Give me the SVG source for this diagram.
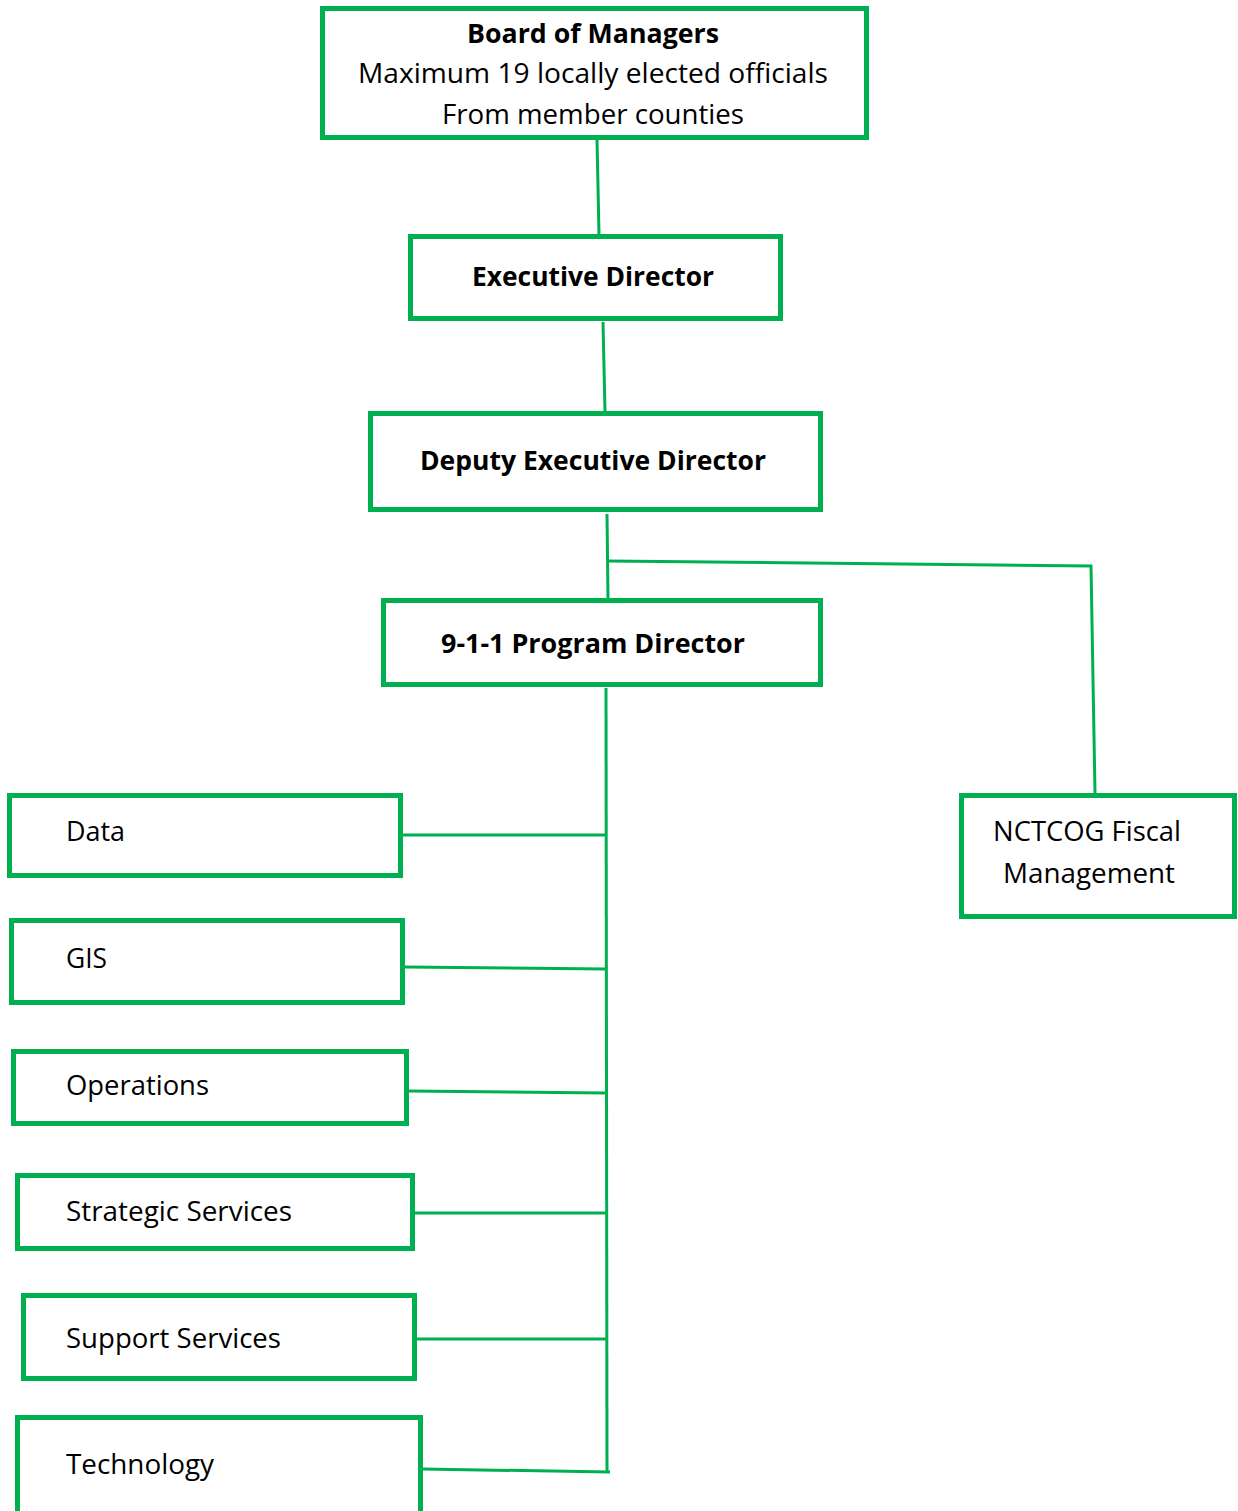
<svg xmlns="http://www.w3.org/2000/svg" width="1238" height="1511" viewBox="0 0 1238 1511">
<style>
.box{fill:#fff;stroke:#00B050;stroke-width:5}
.ln{fill:none;stroke:#00B050;stroke-width:3}
text{font-family:"Open Sans","Noto Sans",sans-serif;font-size:27px;fill:#000}
.b{font-weight:bold}
.c{text-anchor:middle}
</style>
<rect width="1238" height="1511" fill="#fff"/>
<g id="connectors">
<path class="ln" d="M597,139 L599,235"/>
<path class="ln" d="M603,322 L605,412"/>
<path class="ln" d="M607,514 L608,599"/>
<path class="ln" d="M608,561 L1091,566 L1095,793"/>
<path class="ln" d="M606,688 L607,1473"/>
<path class="ln" d="M402,835 L606,835"/>
<path class="ln" d="M404,967 L606,969"/>
<path class="ln" d="M408,1091 L606,1093"/>
<path class="ln" d="M414,1213 L606,1213"/>
<path class="ln" d="M416,1339 L606,1339"/>
<path class="ln" d="M422,1469 L610,1472"/>
</g>
<g id="board">
<rect class="box" x="322.5" y="8.5" width="544" height="129"/>
<text class="b c" x="593" y="43" textLength="252" lengthAdjust="spacingAndGlyphs">Board of Managers</text>
<text class="c" x="593" y="83" textLength="470" lengthAdjust="spacingAndGlyphs">Maximum 19 locally elected officials</text>
<text class="c" x="593" y="124" textLength="302" lengthAdjust="spacingAndGlyphs">From member counties</text>
</g>
<g id="executive">
<rect class="box" x="410.5" y="236.5" width="370" height="82"/>
<text class="b c" x="593" y="286" textLength="242" lengthAdjust="spacingAndGlyphs">Executive Director</text>
</g>
<g id="deputy">
<rect class="box" x="370.5" y="413.5" width="450" height="96"/>
<text class="b c" x="593" y="470" textLength="346" lengthAdjust="spacingAndGlyphs">Deputy Executive Director</text>
</g>
<g id="program">
<rect class="box" x="383.5" y="600.5" width="437" height="84"/>
<text class="b c" x="593" y="653" textLength="304" lengthAdjust="spacingAndGlyphs">9-1-1 Program Director</text>
</g>
<g id="data">
<rect class="box" x="9.5" y="795.5" width="391" height="80"/>
<text x="66" y="841" textLength="59" lengthAdjust="spacingAndGlyphs">Data</text>
</g>
<g id="gis">
<rect class="box" x="11.5" y="920.5" width="391" height="82"/>
<text x="66" y="968" textLength="41" lengthAdjust="spacingAndGlyphs">GIS</text>
</g>
<g id="operations">
<rect class="box" x="13.5" y="1051.5" width="393" height="72"/>
<text x="66" y="1095" textLength="143" lengthAdjust="spacingAndGlyphs">Operations</text>
</g>
<g id="strategic">
<rect class="box" x="17.5" y="1175.5" width="395" height="73"/>
<text x="66" y="1221" textLength="226" lengthAdjust="spacingAndGlyphs">Strategic Services</text>
</g>
<g id="support">
<rect class="box" x="23.5" y="1295.5" width="391" height="83"/>
<text x="66" y="1348" textLength="215" lengthAdjust="spacingAndGlyphs">Support Services</text>
</g>
<g id="technology">
<rect class="box" x="17.5" y="1417.5" width="403" height="110"/>
<text x="66" y="1474" textLength="148" lengthAdjust="spacingAndGlyphs">Technology</text>
</g>
<g id="nctcog">
<rect class="box" x="961.5" y="795.5" width="273" height="121"/>
<text class="c" x="1087" y="841" textLength="188" lengthAdjust="spacingAndGlyphs">NCTCOG Fiscal</text>
<text class="c" x="1089" y="883" textLength="172" lengthAdjust="spacingAndGlyphs">Management</text>
</g>
</svg>
